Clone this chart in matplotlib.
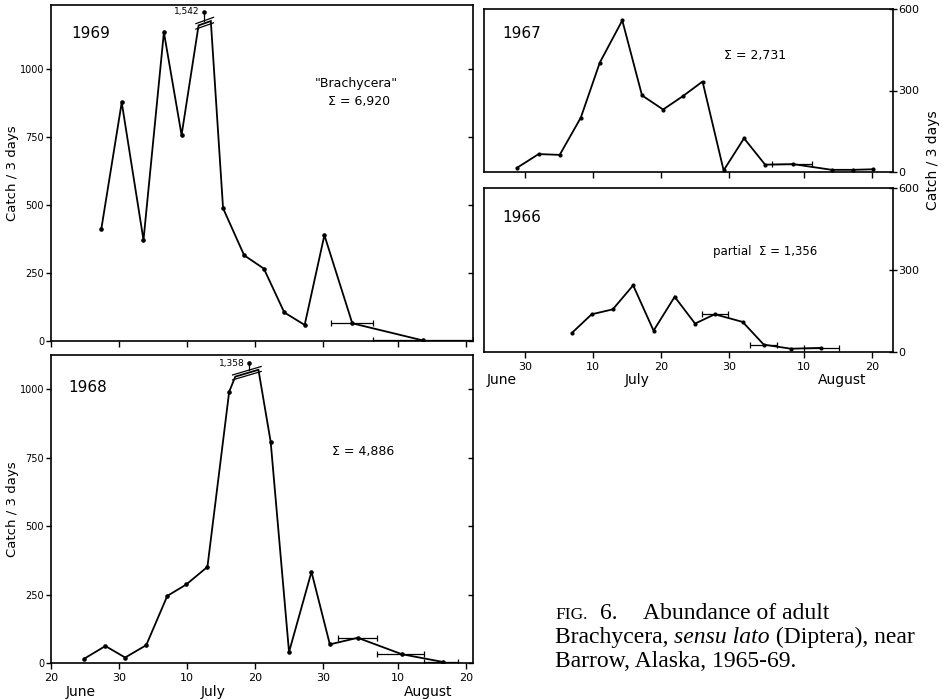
import matplotlib
matplotlib.use("Agg")
import matplotlib.pyplot as plt
import matplotlib.transforms as mtransforms

# x values = days after 20 June (June 30 = 10, July 10 = 20, Aug 10 = 51)
days69 = [7.4, 10.4, 13.6, 16.6, 19.2, 22.5, 25.3, 28.4, 31.3, 34.3, 37.3, 40.2, 44.3, 54.7]
catch69 = [412, 877, 371, 1135, 757, 1542, 488, 315, 266, 105, 59, 389, 65, 2]
spans69 = {12: (41.2, 47.3), 13: (47.3, 62.0)}

days68 = [4.9, 8.0, 10.9, 14.0, 17.1, 19.9, 23.0, 26.2, 29.1, 32.3, 35.0, 38.3, 41.0, 45.1, 51.6, 57.6]
catch68 = [16, 62, 20, 65, 245, 287, 351, 991, 1358, 808, 40, 333, 68, 92, 32, 4]
spans68 = {13: (42.2, 48.0), 14: (48.0, 54.9), 15: (54.9, 59.9)}

days67 = [8.8, 12.0, 15.1, 18.2, 21.0, 24.3, 27.2, 30.3, 33.2, 36.1, 39.2, 42.2, 45.3, 49.4, 55.1, 58.2, 61.2]
catch67 = [15, 66, 63, 200, 403, 558, 282, 230, 279, 333, 6, 124, 27, 29, 8, 8, 10]
spans67 = {13: (46.3, 52.2)}

days66 = [16.9, 19.8, 22.9, 25.9, 28.9, 32.0, 35.0, 37.9, 42.0, 45.1, 49.1, 53.5]
catch66 = [70, 138, 156, 244, 78, 202, 104, 138, 110, 27, 12, 15]
spans66 = {7: (36.0, 39.9), 9: (43.1, 47.1), 11: (51.0, 56.1)}

date_ticks = [0, 10, 20, 30, 40, 51, 61]
date_labels = ["20", "30", "10", "20", "30", "10", "20"]
months = ["June", "July", "August"]

# broken peaks: index, cut points on the line, label dot height
peak69 = dict(idx=5, xl=21.7, yl=1160, xr=23.5, yr=1176, ydot=1210, h=10)
peak68 = dict(idx=8, xl=27.1, yl=1046, xr=30.5, yr=1071, ydot=1095, h=9)

W, H = 947, 700
fig = plt.figure(figsize=(W / 100, H / 100), dpi=100)


def box(l, t, r, b):
    return [l / W, 1 - b / H, (r - l) / W, (b - t) / H]


def draw(ax, days, catch, spans, peak=None, ms=2.3):
    x, y = list(days), list(catch)
    skip = -1
    if peak:
        i = peak["idx"]
        skip = i
        x = days[:i] + [peak["xl"], peak["xr"]] + days[i + 1:]
        y = catch[:i] + [peak["yl"], peak["yr"]] + catch[i + 1:]
    ax.plot(x, y, color="k", lw=1.3, solid_joinstyle="miter")
    px = [d for j, d in enumerate(days) if j != skip]
    py = [c for j, c in enumerate(catch) if j != skip]
    ax.plot(px, py, "o", color="k", ms=ms)
    for j, (lo, hi) in spans.items():
        ax.errorbar(days[j], catch[j], xerr=[[days[j] - lo], [hi - days[j]]],
                    fmt="none", ecolor="k", elinewidth=0.9, capsize=2.5, capthick=0.9)
    if peak:
        i = peak["idx"]
        sl = (peak["yr"] - peak["yl"]) / (peak["xr"] - peak["xl"])
        for o in (-peak["h"], peak["h"]):
            x0, x1 = peak["xl"] - 0.4, peak["xr"] + 0.4
            ax.plot([x0, x1], [peak["yl"] - 0.4 * sl + o, peak["yr"] + 0.4 * sl + o],
                    color="k", lw=0.9)
        ymid = peak["yl"] + sl * (days[i] - peak["xl"])
        ax.plot([days[i], days[i]], [ymid + peak["h"], peak["ydot"]], color="k", lw=0.9)
        ax.plot(days[i], peak["ydot"], "o", color="k", ms=2.3)
        ax.text(days[i] - 0.6, peak["ydot"], f"{catch[i]:,}", fontsize=6.5,
                ha="right", va="center")


def style_left(ax, top, show_x):
    ax.set_xlim(0.2, 62.05)
    ax.set_ylim(0, top)
    ax.set_yticks([0, 250, 500, 750, 1000])
    ax.set_xticks(date_ticks)
    ax.set_xticklabels(date_labels if show_x else [])
    ax.tick_params(axis="y", direction="out", length=3.5, width=1, labelsize=7, pad=1.5,
                   right=True)
    ax.tick_params(axis="x", direction="out", length=4, width=1, labelsize=8, pad=3)
    # right-hand ticks point inward
    for t in ax.yaxis.get_ticklines()[1::2]:
        t.set_marker(0)
    ax.set_ylabel("Catch / 3 days", fontsize=9.5)
    ax.yaxis.set_label_coords(-0.076, 0.5)
    for s in ax.spines.values():
        s.set_linewidth(1.2)


def style_right(ax, show_x):
    ax.set_xlim(3.97, 64.1)
    ax.set_ylim(0, 600)
    ax.set_yticks([0, 300, 600])
    ax.yaxis.tick_right()
    ax.set_xticks(date_ticks[1:])
    ax.set_xticklabels(date_labels[1:] if show_x else [])
    ax.tick_params(axis="y", direction="inout", length=6, width=1, labelsize=8, pad=1)
    ax.tick_params(axis="x", direction="out", length=4, width=1, labelsize=8, pad=3)
    for s in ax.spines.values():
        s.set_linewidth(1.2)


ax69 = fig.add_axes(box(51, 5, 473, 341))
draw(ax69, days69, catch69, spans69, peak69)
style_left(ax69, 1235, False)

ax68 = fig.add_axes(box(51, 355, 473, 663))
draw(ax68, days68, catch68, spans68, peak68)
style_left(ax68, 1125, True)

ax67 = fig.add_axes(box(484, 9, 893, 172))
draw(ax67, days67, catch67, spans67, ms=2.0)
style_right(ax67, False)

ax66 = fig.add_axes(box(484, 188, 893, 352))
draw(ax66, days66, catch66, spans66, ms=2.0)
style_right(ax66, True)


def ftext(x, y, s, **kw):
    return fig.text(x / W, 1 - y / H, s, **kw)


ftext(91, 33, "1969", fontsize=11, ha="center", va="center")
ftext(88, 388, "1968", fontsize=11, ha="center", va="center")
ftext(522, 33, "1967", fontsize=11, ha="center", va="center")
ftext(522, 217, "1966", fontsize=11, ha="center", va="center")

ftext(356, 84, '"Brachycera"', fontsize=9, ha="center", va="center")
ftext(359, 101, "Σ = 6,920", fontsize=9, ha="center", va="center")
ftext(363, 452, "Σ = 4,886", fontsize=9, ha="center", va="center")
ftext(755, 56, "Σ = 2,731", fontsize=9, ha="center", va="center")
ftext(765, 251, "partial  Σ = 1,356", fontsize=8.5, ha="center", va="center")

ftext(933, 160, "Catch / 3 days", fontsize=10, ha="center", va="center", rotation=90)

# month names under the date ticks
mx_left = [4.3, 23.9, 55.4]
mx_right = [6.6, 26.5, 56.6]
tl = mtransforms.blended_transform_factory(ax68.transData, ax68.transAxes)
tr = mtransforms.blended_transform_factory(ax66.transData, ax66.transAxes)
for m, xl, xr in zip(months, mx_left, mx_right):
    ax68.text(xl, -0.094, m, fontsize=10, ha="center", va="center", transform=tl)
    ax66.text(xr, -0.17, m, fontsize=10, ha="center", va="center", transform=tr)

# caption
serif = "Liberation Serif"
fs = 17
ftext(555, 619, "FIG.", fontsize=12.5, family=serif)
ftext(600, 619, "6.", fontsize=fs, family=serif)
ftext(643, 619, "Abundance of adult", fontsize=fs, family=serif)
parts = [("Brachycera, ", "normal"), ("sensu lato", "italic"), (" (Diptera), near", "normal")]
fig.canvas.draw()
r = fig.canvas.get_renderer()
x = 555
for s, st in parts:
    t = ftext(x, 643, s, fontsize=fs, family=serif, style=st)
    x = t.get_window_extent(r).x1
ftext(555, 667, "Barrow, Alaska, 1965-69.", fontsize=fs, family=serif)

fig.savefig("out.png", dpi=100)
